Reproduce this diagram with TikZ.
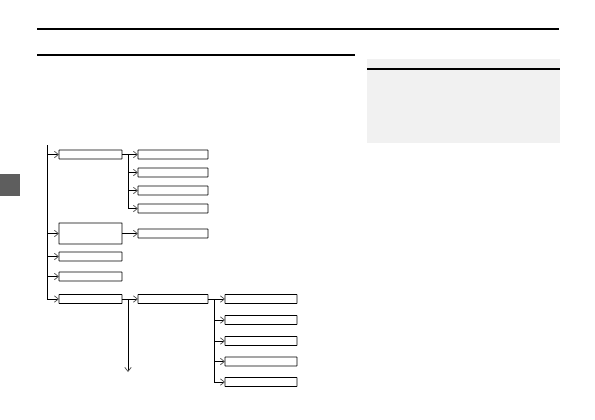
\documentclass[tikz,border=0pt]{standalone}
\usepackage{tikz}
\usetikzlibrary{arrows.meta,positioning,calc}
\definecolor{panel}{HTML}{F1F1F1}
\definecolor{tab}{HTML}{5E5E5E}
\definecolor{tip}{HTML}{555555}
\tikzset{
  >={Straight Barb[length=2mm,width=3.2mm,color=tip]},
  box/.style={draw=black,rounded corners=0.4pt,line width=1.1pt,inner sep=0pt,outer sep=0pt,minimum height=4.4mm},
  lbox/.style={box,minimum width=31.5mm},
  mbox/.style={box,minimum width=35mm},
  rbox/.style={box,minimum width=36mm},
  arr/.style={->,draw=black,line width=1.1pt},
  rule/.style={draw=black,line width=1.5pt},
}
\begin{document}
\begin{tikzpicture}[x=0.5mm,y=-0.5mm]
\useasboundingbox (0,0) rectangle (595,420);
% page rules and side panel
\draw[rule] (37,29) -- (559,29);
\draw[rule] (37,55) -- (355,55);
\fill[panel] (367,59) rectangle (560,143);
\draw[rule] (367,69) -- (560,69);
\fill[tab] (0,174) rectangle (20,196);
% first level
\node[lbox] (a1) at (90.5,154.5) {};
\node[lbox,minimum height=10.5mm] (a2) at (90.5,233.5) {};
\node[lbox] (a3) at (90.5,256.5) {};
\node[lbox] (a4) at (90.5,276.5) {};
\node[lbox] (a5) at (90.5,299) {};
% second level
\node[mbox] (b1) at (173,154.5) {};
\node[mbox] (b2) at (173,172.5) {};
\node[mbox] (b3) at (173,190.5) {};
\node[mbox] (b4) at (173,208.5) {};
\node[mbox] (b5) at (173,233.5) {};
\node[mbox] (b6) at (173,299) {};
% third level
\node[rbox] (d1) at (261,299) {};
\node[rbox] (d2) at (261,320) {};
\node[rbox] (d3) at (261,341) {};
\node[rbox] (d4) at (261,361.5) {};
\node[rbox] (d5) at (261,382) {};
% connectors
\coordinate (t0) at (47,145);
\draw[arr] (t0) |- (a5);
\foreach \n in {a1,a2,a3,a4}
  \draw[arr] (t0 |- \n) -- (\n);
\coordinate (j1) at ([xshift=3mm]a1.east);
\draw[arr] (a1) -- (b1);
\draw[arr] (j1) |- (b4);
\foreach \n in {b2,b3}
  \draw[arr] (j1 |- \n) -- (\n);
\draw[arr] (a2) -- (b5);
\coordinate (j2) at ([xshift=3mm]a5.east);
\coordinate (out) at (j2 |- 0,372);
\draw[arr] (a5) -- (b6);
\draw[arr] (j2) -- (out);
\coordinate (j3) at ([xshift=3mm]b6.east);
\draw[arr] (b6) -- (d1);
\draw[arr] (j3) |- (d5);
\foreach \n in {d2,d3,d4}
  \draw[arr] (j3 |- \n) -- (\n);
\end{tikzpicture}
\end{document}
